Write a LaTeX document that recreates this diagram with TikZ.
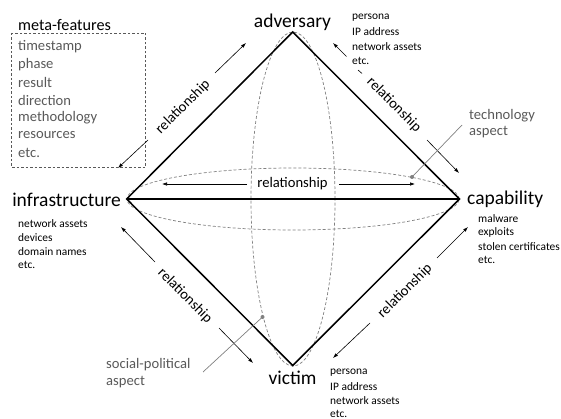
\documentclass[tikz,border=0pt]{standalone}
\usepackage{fontspec}
\setmainfont{Carlito}
\usetikzlibrary{arrows.meta}
\definecolor{txtgray}{RGB}{89,89,89}
\definecolor{lngray}{RGB}{128,128,128}
\tikzset{
  vlabel/.style={font=\fontsize{19.5}{22}\selectfont, inner sep=0pt},
  small/.style={font=\fontsize{11.4}{14}\selectfont, inner sep=0pt, anchor=west},
  meta/.style={font=\fontsize{14.6}{17}\selectfont, text=txtgray, inner sep=0pt, anchor=west},
  rel/.style={font=\fontsize{14.6}{17}\selectfont, inner sep=0pt},
  aspect/.style={font=\fontsize{14.6}{17}\selectfont, text=txtgray, inner sep=0pt, anchor=west},
  edge/.style={line width=1.5pt, line join=miter},
  ell/.style={draw=lngray, line width=0.7pt, dash pattern=on 3pt off 2pt},
  relarrow/.style={line width=0.6pt, -{Latex[length=5pt,width=3.5pt]}},
  leader/.style={draw=lngray, line width=0.7pt},
  dotmark/.style={circle, fill=lngray, inner sep=0pt, minimum size=4pt}
}
\begin{document}
\begin{tikzpicture}[x=1pt,y=-1pt]
\useasboundingbox (0,0) rectangle (561,419);
% vertices
\coordinate (A) at (292.7,32);
\coordinate (I) at (126.7,199);
\coordinate (C) at (459.5,199);
\coordinate (V) at (292.7,365.5);
% dashed ellipses
\draw[ell] (293,199) ellipse [x radius=166pt, y radius=31pt];
\draw[ell] (293,199) ellipse [x radius=42pt, y radius=167pt];
% diamond
\draw[edge] (A) -- (C) -- (V) -- (I) -- cycle;
\draw[edge] (I) -- (C);
% vertex labels
\node[vlabel] (adv) at (292.5,22) {adversary};
\node[vlabel, anchor=east] (inf) at (121,199.5) {infrastructure};
\node[vlabel, anchor=west] (cap) at (467,199.5) {capability};
\node[vlabel] (vic) at (292.5,378) {victim};
% small lists
\node[small] (a1) at (352,18) {persona};
\node[small] (a2) at (352,32) {IP address};
\node[small] (a3) at (352,46.5) {network assets};
\node[small] (a4) at (352,60.5) {etc.};
\node[small] (i1) at (18,223.3) {network assets};
\node[small] (i2) at (18,237.3) {devices};
\node[small] (i3) at (18,251.3) {domain names};
\node[small] (i4) at (18,265.3) {etc.};
\node[small] (c1) at (478,218.3) {malware};
\node[small] (c2) at (478,232.3) {exploits};
\node[small] (c3) at (478,246.3) {stolen certificates};
\node[small] (c4) at (478,260.3) {etc.};
\node[small] (v1) at (330,373) {persona};
\node[small] (v2) at (330,387) {IP address};
\node[small] (v3) at (330,401) {network assets};
\node[small] (v4) at (330,414) {etc.};
% meta-features
\node[font=\fontsize{16.2}{19}\selectfont, inner sep=0pt, anchor=west] (mtitle) at (18,25) {meta-features};
\draw[draw=txtgray, line width=0.7pt, dash pattern=on 2.5pt off 2pt] (11.5,33) rectangle (145.5,167.5);
\node[meta] (m1) at (18,47) {timestamp};
\node[meta] (m2) at (18,64.5) {phase};
\node[meta] (m3) at (18,82) {result};
\node[meta] (m4) at (18,100) {direction};
\node[meta] (m5) at (18,117.5) {methodology};
\node[meta] (m6) at (18,135) {resources};
\node[meta] (m7) at (18,153) {etc.};
% relationship labels
\node[rel, rotate=45] (r1) at (183,107) {relationship};
\node[rel, rotate=-45] (r2) at (394,105) {relationship};
\node[rel] (r3) at (292.5,184) {relationship};
\node[rel, rotate=-45] (r4) at (185,296) {relationship};
\node[rel, rotate=45] (r5) at (405,291) {relationship};
% relationship arrows
\coordinate (r1a) at (215,73); \coordinate (r1b) at (246,43);
\coordinate (r1c) at (148,140); \coordinate (r1d) at (118,168);
\draw[relarrow] (r1a) -- (r1b);
\draw[relarrow] (r1c) -- (r1d);
\coordinate (r2a) at (346.5,56.5); \coordinate (r2b) at (333,43);
\coordinate (r2c) at (427,140); \coordinate (r2d) at (459,173);
\coordinate (r2e) at (358,70); \coordinate (r2f) at (362,73.5);
\draw[relarrow] (r2a) -- (r2b);
\draw[line width=0.6pt] (r2e) -- (r2f);
\draw[relarrow] (r2c) -- (r2d);
\coordinate (r3a) at (339,184); \coordinate (r3b) at (415,184);
\coordinate (r3c) at (247,184); \coordinate (r3d) at (162,184);
\draw[relarrow] (r3a) -- (r3b);
\draw[relarrow] (r3c) -- (r3d);
\coordinate (r4a) at (155,262); \coordinate (r4b) at (121,227);
\coordinate (r4c) at (219,328); \coordinate (r4d) at (253,363);
\draw[relarrow] (r4a) -- (r4b);
\draw[relarrow] (r4c) -- (r4d);
\coordinate (r5a) at (437,258); \coordinate (r5b) at (468,227);
\coordinate (r5c) at (370,323); \coordinate (r5d) at (333,358);
\draw[relarrow] (r5a) -- (r5b);
\draw[relarrow] (r5c) -- (r5d);
% aspects
\node[aspect] (tech1) at (469,116) {technology};
\node[aspect] (tech2) at (469,132.5) {aspect};
\node[dotmark] (tdot) at (412,177) {};
\coordinate (tl) at (462,125);
\draw[leader] (tl) -- (tdot.center);
\node[aspect] (soc1) at (106,365) {social-political};
\node[aspect] (soc2) at (106,382) {aspect};
\node[dotmark] (sdot) at (262.5,317) {};
\coordinate (sl) at (203,372);
\draw[leader] (sl) -- (sdot.center);
\end{tikzpicture}
\end{document}
